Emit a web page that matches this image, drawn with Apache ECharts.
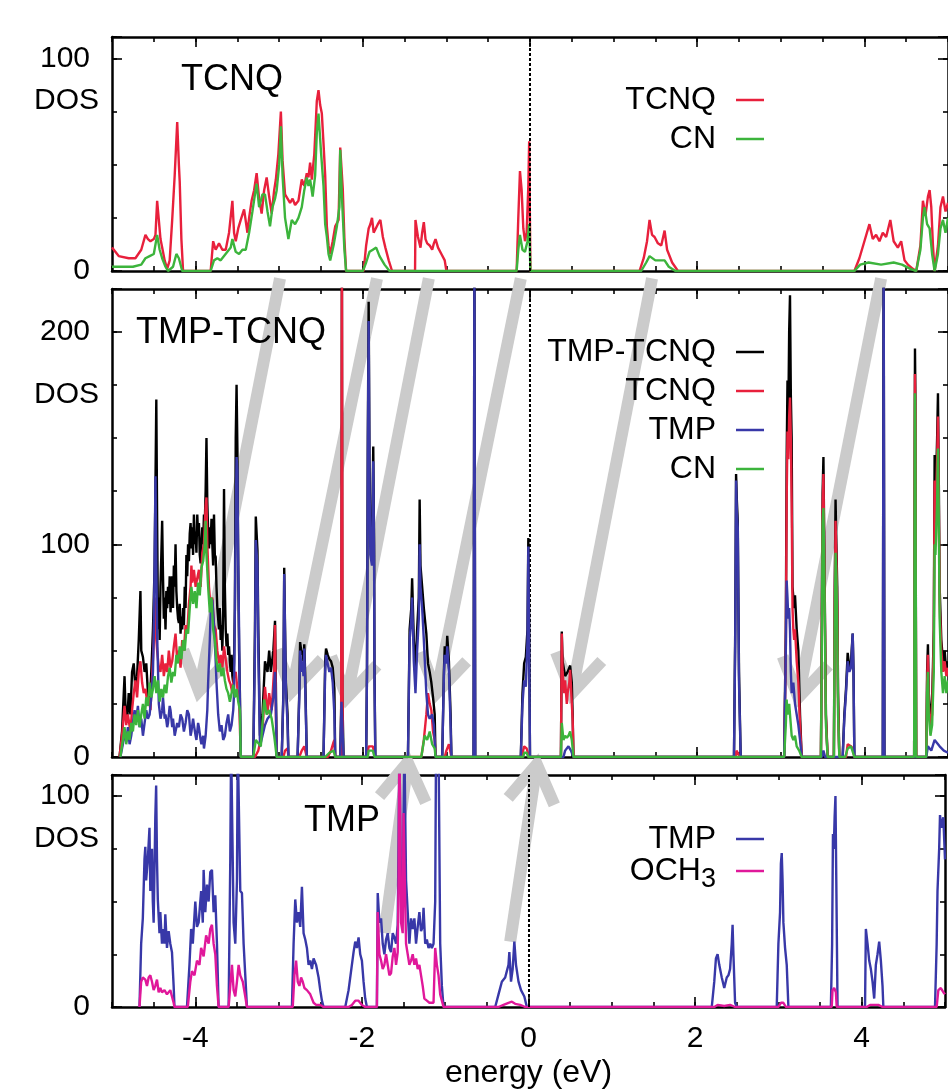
<!DOCTYPE html>
<html>
<head>
<meta charset="utf-8">
<title>DOS TMP-TCNQ</title>
<script src="https://cdn.jsdelivr.net/npm/echarts@6.0.0/dist/echarts.min.js"></script>
<style>
html, body { margin: 0; padding: 0; background: #fff; }
#main { width: 948px; height: 1090px; }
</style>
</head>
<body>
<div id="main"></div>
<script>
// ---- values: [energy (eV), DOS] ----
var tcnqTop = [[-5.0,11],[-4.92,7],[-4.8,6],[-4.72,6],[-4.65,10],[-4.6,17],[-4.57,15],[-4.54,14],[-4.5,15],[-4.48,17],[-4.46,33],[-4.44,24],[-4.42,15],[-4.4,11],[-4.37,5],[-4.34,1],[-4.31,5],[-4.28,24],[-4.25,45],[-4.22,70],[-4.2,50],[-4.19,42],[-4.17,15],[-4.15,0],
  [-3.82,0],[-3.79,14],[-3.76,10],[-3.72,13],[-3.68,10],[-3.64,10],[-3.6,18],[-3.56,33],[-3.54,18],[-3.52,14],[-3.49,20],[-3.46,24],[-3.42,29],[-3.38,18],[-3.36,25],[-3.33,33],[-3.3,38],[-3.27,46],[-3.24,34],[-3.21,27],[-3.18,38],[-3.15,44],[-3.12,35],[-3.09,27],[-3.06,38],[-3.04,43],[-3.01,55],[-2.98,75],[-2.96,52],[-2.93,36],[-2.9,34],[-2.87,32],[-2.84,34],[-2.81,31],[-2.77,33],[-2.73,43],[-2.7,40],[-2.67,46],[-2.65,44],[-2.63,51],[-2.61,43],[-2.58,55],[-2.55,80],[-2.53,85],[-2.51,78],[-2.49,74],[-2.47,60],[-2.45,45],[-2.43,21],[-2.41,12],[-2.39,8],[-2.36,14],[-2.33,21],[-2.29,24],[-2.27,58],[-2.24,39],[-2.22,15],[-2.2,0],
  [-1.99,0],[-1.96,12],[-1.93,20],[-1.91,22],[-1.89,25],[-1.87,18],[-1.85,18],[-1.82,22],[-1.79,24],[-1.76,16],[-1.73,11],[-1.69,5],[-1.65,0],
  [-1.375,0],[-1.37,24],[-1.34,16],[-1.31,11],[-1.29,18],[-1.27,23],[-1.25,15],[-1.23,13],[-1.2,12],[-1.17,10],[-1.15,13],[-1.13,15],[-1.1,11],[-1.06,8],[-1.02,5],[-1.0,0],
  [-0.16,0],[-0.14,25],[-0.12,47],[-0.1,38],[-0.08,20],[-0.06,14],[-0.04,18],[-0.02,40],[-0.01,61],[0.005,0],
  [1.31,0],[1.36,6],[1.4,14],[1.43,24],[1.46,17],[1.49,16],[1.53,13],[1.57,12],[1.61,19],[1.64,10],[1.7,4],[1.77,0],
  [3.88,0],[3.94,6],[4.0,14],[4.06,22],[4.1,15],[4.14,17],[4.18,14],[4.22,18],[4.26,16],[4.31,24],[4.35,14],[4.4,11],[4.44,14],[4.48,5],[4.52,3],[4.58,1],[4.62,0],
  [4.64,0],[4.67,12],[4.7,33],[4.73,26],[4.76,35],[4.78,38],[4.8,30],[4.82,12],[4.84,0],[4.88,12],[4.91,30],[4.94,35],[4.97,28],[5.0,32]];

var cnTop = [[-5.0,2],[-4.9,2],[-4.75,2],[-4.65,3],[-4.6,6],[-4.55,7],[-4.5,8],[-4.46,17],[-4.43,10],[-4.4,6],[-4.36,2],[-4.33,0],[-4.27,2],[-4.23,8],[-4.2,6],[-4.16,0],
  [-3.82,0],[-3.78,5],[-3.74,6],[-3.7,5],[-3.66,7],[-3.62,9],[-3.58,11],[-3.56,15],[-3.52,9],[-3.48,8],[-3.44,10],[-3.4,10],[-3.36,18],[-3.32,28],[-3.29,36],[-3.27,41],[-3.24,30],[-3.2,36],[-3.17,36],[-3.14,28],[-3.11,21],[-3.08,30],[-3.05,34],[-3.03,38],[-3.0,50],[-2.98,68],[-2.96,45],[-2.93,25],[-2.89,15],[-2.85,24],[-2.81,22],[-2.77,25],[-2.73,30],[-2.7,38],[-2.67,44],[-2.65,40],[-2.63,43],[-2.6,35],[-2.57,45],[-2.55,65],[-2.53,74],[-2.51,62],[-2.5,56],[-2.47,40],[-2.45,22],[-2.43,16],[-2.41,8],[-2.39,5],[-2.35,12],[-2.31,21],[-2.28,30],[-2.27,57],[-2.25,35],[-2.22,10],[-2.2,0],
  [-2.0,0],[-1.96,4],[-1.92,9],[-1.88,10],[-1.84,11],[-1.8,7],[-1.74,3],[-1.68,0],
  [-0.16,0],[-0.14,10],[-0.12,17],[-0.09,10],[-0.06,9],[-0.03,14],[-0.01,22],[0.005,0],
  [1.33,0],[1.39,4],[1.43,7],[1.5,5],[1.56,5],[1.61,5],[1.66,2],[1.74,0],
  [3.88,0],[3.95,3],[4.05,4],[4.2,3],[4.35,4],[4.45,3],[4.55,1],[4.62,0],
  [4.64,0],[4.67,10],[4.7,25],[4.72,30],[4.75,22],[4.78,20],[4.81,8],[4.84,0],[4.88,8],[4.91,20],[4.94,24],[4.97,18],[5.0,25]];

var totMid = [[-4.91,0],[-4.88,12],[-4.85,38],[-4.84,25],[-4.82,16],[-4.8,30],[-4.78,20],[-4.76,40],[-4.74,44],[-4.72,32],[-4.7,38],[-4.68,55],[-4.66,78],[-4.65,50],[-4.63,47],[-4.61,40],[-4.59,44],[-4.57,30],[-4.55,24],[-4.53,40],[-4.51,60],[-4.49,90],[-4.47,168],[-4.46,110],[-4.45,60],[-4.44,75],[-4.43,55],[-4.42,80],[-4.41,95],[-4.4,111],[-4.39,85],[-4.38,65],[-4.37,75],[-4.36,60],[-4.35,78],[-4.34,70],[-4.33,80],[-4.32,72],[-4.31,85],[-4.3,68],[-4.29,76],[-4.28,85],[-4.27,70],[-4.26,90],[-4.25,80],[-4.24,100],[-4.23,78],[-4.22,70],[-4.21,65],[-4.2,63],[-4.19,72],[-4.18,58],[-4.17,66],[-4.16,60],[-4.15,70],[-4.14,62],[-4.13,80],[-4.12,70],[-4.11,95],[-4.1,85],[-4.09,100],[-4.08,92],[-4.07,105],[-4.06,110],[-4.05,98],[-4.04,108],[-4.03,95],[-4.02,114],[-4.01,100],[-4.0,106],[-3.99,96],[-3.98,114],[-3.97,104],[-3.96,110],[-3.95,95],[-3.94,91],[-3.93,100],[-3.92,108],[-3.91,100],[-3.9,114],[-3.89,110],[-3.88,125],[-3.87,150],[-3.86,120],[-3.85,106],[-3.84,98],[-3.83,108],[-3.82,100],[-3.81,112],[-3.8,100],[-3.79,90],[-3.78,114],[-3.77,95],[-3.76,94],[-3.75,80],[-3.74,70],[-3.73,65],[-3.72,60],[-3.71,70],[-3.7,55],[-3.69,62],[-3.68,50],[-3.67,70],[-3.66,126],[-3.65,80],[-3.64,60],[-3.63,52],[-3.62,58],[-3.61,48],[-3.6,52],[-3.59,45],[-3.58,40],[-3.57,48],[-3.56,38],[-3.55,35],[-3.54,45],[-3.53,70],[-3.52,150],[-3.51,175],[-3.5,145],[-3.49,90],[-3.48,50],[-3.47,30],[-3.46,0],
  [-3.31,0],[-3.29,60],[-3.28,113],[-3.26,97],[-3.25,60],[-3.23,10],[-3.2,20],[-3.17,45],[-3.14,40],[-3.12,50],[-3.1,40],[-3.07,50],[-3.05,64],[-3.04,35],[-3.03,0],
  [-2.97,0],[-2.95,30],[-2.94,89],[-2.93,60],[-2.92,35],[-2.9,20],[-2.89,0],
  [-2.78,0],[-2.76,30],[-2.75,54],[-2.73,48],[-2.72,50],[-2.71,45],[-2.7,53],[-2.69,40],[-2.67,0],
  [-2.47,0],[-2.45,45],[-2.44,51],[-2.42,48],[-2.4,46],[-2.38,45],[-2.36,42],[-2.34,32],[-2.33,0],
  [-2.27,0],[-2.255,30],[-2.25,250],[-2.245,30],[-2.23,0],
  [-1.96,0],[-1.95,40],[-1.94,150],[-1.93,214],[-1.92,140],[-1.91,100],[-1.89,95],[-1.875,146],[-1.865,100],[-1.86,40],[-1.85,0],
  [-1.46,0],[-1.44,60],[-1.42,70],[-1.41,84],[-1.39,55],[-1.37,40],[-1.35,60],[-1.33,75],[-1.32,121],[-1.31,90],[-1.29,80],[-1.27,70],[-1.24,58],[-1.22,44],[-1.2,40],[-1.18,35],[-1.16,28],[-1.14,20],[-1.13,0],
  [-1.05,0],[-1.03,40],[-1.02,52],[-1.0,48],[-0.99,57],[-0.97,45],[-0.95,20],[-0.94,0],
  [-0.675,0],[-0.665,250],[-0.655,0],
  [-0.11,0],[-0.09,30],[-0.07,44],[-0.05,47],[-0.03,60],[-0.02,103],[-0.01,60],[0,0],
  [0.37,0],[0.38,59],[0.39,45],[0.42,38],[0.45,40],[0.47,42],[0.48,43],[0.5,35],[0.51,20],[0.52,0],
  [2.44,0],[2.455,60],[2.465,133],[2.475,120],[2.485,111],[2.5,40],[2.52,0],
  [3.04,0],[3.06,60],[3.07,140],[3.08,177],[3.09,160],[3.1,200],[3.11,217],[3.12,170],[3.13,150],[3.14,80],[3.15,75],[3.16,70],[3.17,76],[3.19,60],[3.21,50],[3.23,20],[3.25,0],
  [3.48,0],[3.49,60],[3.5,124],[3.51,141],[3.52,100],[3.53,60],[3.54,20],[3.56,0],
  [3.635,0],[3.645,80],[3.655,121],[3.665,100],[3.675,80],[3.685,30],[3.7,0],
  [3.74,0],[3.76,20],[3.78,32],[3.8,49],[3.82,42],[3.84,45],[3.86,58],[3.87,40],[3.88,0],
  [4.22,0],[4.23,250],[4.24,0],
  [4.595,0],[4.6,120],[4.605,192],[4.61,170],[4.615,80],[4.62,0],
  [4.74,0],[4.75,40],[4.76,53],[4.77,30],[4.79,20],[4.81,25],[4.83,60],[4.84,142],[4.85,120],[4.87,150],[4.88,171],[4.89,130],[4.9,80],[4.92,55],[4.94,45],[4.96,50],[4.98,40],[5.0,45]];

var tcnqMid = [[-4.91,0],[-4.88,10],[-4.85,24],[-4.83,15],[-4.81,20],[-4.78,12],[-4.76,22],[-4.74,30],[-4.72,36],[-4.7,28],[-4.68,40],[-4.66,45],[-4.64,35],[-4.62,30],[-4.6,32],[-4.58,26],[-4.56,28],[-4.54,22],[-4.52,38],[-4.5,55],[-4.49,75],[-4.48,60],[-4.46,50],[-4.44,42],[-4.42,40],[-4.4,48],[-4.38,38],[-4.36,44],[-4.34,40],[-4.32,50],[-4.3,42],[-4.28,45],[-4.26,52],[-4.24,58],[-4.22,45],[-4.2,50],[-4.18,42],[-4.16,55],[-4.14,50],[-4.12,62],[-4.1,58],[-4.08,72],[-4.06,80],[-4.05,90],[-4.04,82],[-4.02,88],[-4.0,80],[-3.98,84],[-3.96,88],[-3.94,80],[-3.92,96],[-3.9,100],[-3.88,118],[-3.87,122],[-3.86,100],[-3.84,80],[-3.82,70],[-3.8,75],[-3.78,62],[-3.76,60],[-3.74,50],[-3.72,44],[-3.7,48],[-3.68,42],[-3.66,52],[-3.64,46],[-3.62,40],[-3.6,36],[-3.58,34],[-3.56,30],[-3.54,38],[-3.52,40],[-3.5,32],[-3.48,28],[-3.46,0],
  [-3.29,0],[-3.25,3],[-3.2,12],[-3.17,33],[-3.14,20],[-3.12,30],[-3.09,22],[-3.06,42],[-3.05,62],[-3.04,20],[-3.03,0],
  [-2.95,0],[-2.93,3],[-2.9,4],[-2.89,0],
  [-2.76,0],[-2.73,3],[-2.7,5],[-2.67,0],
  [-2.42,0],[-2.38,3],[-2.35,7],[-2.34,8],[-2.33,0],
  [-2.26,0],[-2.25,240],[-2.24,0],
  [-1.95,0],[-1.93,5],[-1.88,5],[-1.85,0],
  [-1.3,0],[-1.27,8],[-1.24,20],[-1.22,30],[-1.2,25],[-1.18,22],[-1.16,12],[-1.14,8],[-1.13,0],
  [-1.02,0],[-1.0,3],[-0.97,6],[-0.94,0],
  [-0.1,0],[-0.07,5],[-0.04,4],[-0.01,0],
  [0.37,0],[0.38,58],[0.39,40],[0.41,30],[0.42,36],[0.44,25],[0.45,30],[0.47,35],[0.48,41],[0.5,25],[0.51,18],[0.52,0],
  [2.46,0],[2.47,3],[2.49,3],[2.51,0],
  [3.04,0],[3.06,50],[3.07,120],[3.08,153],[3.09,140],[3.1,160],[3.11,169],[3.12,150],[3.13,120],[3.14,70],[3.15,60],[3.16,55],[3.17,60],[3.19,45],[3.21,35],[3.23,15],[3.25,0],
  [3.48,0],[3.49,55],[3.5,117],[3.51,133],[3.52,95],[3.53,55],[3.54,18],[3.56,0],
  [3.635,0],[3.645,70],[3.655,111],[3.665,92],[3.675,70],[3.685,25],[3.7,0],
  [3.78,0],[3.8,6],[3.84,5],[3.86,4],[3.88,0],
  [4.595,0],[4.6,115],[4.605,180],[4.61,160],[4.615,75],[4.62,0],
  [4.74,0],[4.75,35],[4.76,48],[4.77,25],[4.79,15],[4.81,20],[4.83,55],[4.84,130],[4.85,110],[4.87,140],[4.88,160],[4.89,120],[4.9,72],[4.92,50],[4.94,40],[4.96,45],[4.98,38],[5.0,42]];

var tmpMid = [[-4.9,0],[-4.87,6],[-4.85,12],[-4.83,7],[-4.81,14],[-4.79,6],[-4.77,10],[-4.75,16],[-4.73,22],[-4.71,18],[-4.69,24],[-4.67,14],[-4.65,18],[-4.63,10],[-4.61,16],[-4.59,22],[-4.57,18],[-4.55,20],[-4.53,28],[-4.51,40],[-4.5,58],[-4.48,132],[-4.47,90],[-4.46,58],[-4.44,25],[-4.42,18],[-4.4,22],[-4.39,28],[-4.37,18],[-4.36,20],[-4.34,14],[-4.33,16],[-4.31,24],[-4.3,22],[-4.28,14],[-4.27,18],[-4.25,10],[-4.24,12],[-4.22,16],[-4.2,14],[-4.18,20],[-4.16,18],[-4.14,12],[-4.12,16],[-4.1,22],[-4.08,20],[-4.06,10],[-4.05,12],[-4.03,18],[-4.02,15],[-4.0,10],[-3.99,8],[-3.97,16],[-3.96,14],[-3.94,8],[-3.93,6],[-3.91,10],[-3.9,4],[-3.88,10],[-3.86,22],[-3.85,35],[-3.83,55],[-3.82,68],[-3.8,74],[-3.78,62],[-3.77,55],[-3.75,35],[-3.73,20],[-3.71,12],[-3.69,15],[-3.67,8],[-3.65,10],[-3.63,16],[-3.61,20],[-3.59,12],[-3.57,15],[-3.55,22],[-3.54,30],[-3.53,70],[-3.52,110],[-3.51,141],[-3.5,135],[-3.49,90],[-3.48,60],[-3.47,25],[-3.46,0],
  [-3.31,0],[-3.29,50],[-3.28,102],[-3.26,90],[-3.25,50],[-3.23,5],[-3.2,10],[-3.17,15],[-3.14,18],[-3.1,20],[-3.07,28],[-3.05,40],[-3.04,25],[-3.03,0],
  [-2.97,0],[-2.95,28],[-2.94,86],[-2.93,58],[-2.92,32],[-2.9,15],[-2.89,0],
  [-2.78,0],[-2.76,28],[-2.75,50],[-2.73,40],[-2.72,45],[-2.71,38],[-2.7,51],[-2.69,35],[-2.67,0],
  [-2.47,0],[-2.45,40],[-2.44,48],[-2.42,44],[-2.4,40],[-2.38,42],[-2.36,35],[-2.34,20],[-2.33,0],
  [-2.27,0],[-2.255,26],[-2.245,26],[-2.23,0],
  [-1.96,0],[-1.95,38],[-1.94,140],[-1.93,205],[-1.92,132],[-1.91,95],[-1.89,90],[-1.875,139],[-1.865,95],[-1.86,35],[-1.85,0],
  [-1.46,0],[-1.44,55],[-1.42,65],[-1.41,75],[-1.39,45],[-1.37,30],[-1.35,50],[-1.33,65],[-1.32,100],[-1.31,80],[-1.29,70],[-1.27,55],[-1.24,30],[-1.22,20],[-1.2,18],[-1.17,20],[-1.15,15],[-1.13,0],
  [-1.05,0],[-1.03,38],[-1.02,48],[-1.0,44],[-0.99,52],[-0.97,40],[-0.95,15],[-0.94,0],
  [-0.675,0],[-0.665,240],[-0.655,0],
  [-0.11,0],[-0.09,25],[-0.07,36],[-0.05,33],[-0.03,55],[-0.02,99],[-0.01,55],[0,0],
  [0.4,0],[0.42,3],[0.46,5],[0.49,3],[0.52,0],
  [2.44,0],[2.455,55],[2.465,130],[2.475,115],[2.485,108],[2.5,35],[2.52,0],
  [3.04,0],[3.06,50],[3.07,83],[3.08,75],[3.09,65],[3.1,70],[3.11,60],[3.12,40],[3.13,30],[3.15,35],[3.17,25],[3.19,20],[3.21,15],[3.23,8],[3.25,0],
  [3.49,0],[3.51,3],[3.53,0],
  [3.74,0],[3.76,18],[3.78,30],[3.8,45],[3.82,40],[3.84,42],[3.86,58],[3.87,38],[3.88,0],
  [4.22,0],[4.23,240],[4.24,0],
  [4.74,0],[4.76,5],[4.8,3],[4.84,8],[4.9,5],[4.95,3],[5.0,2]];

var cnMid = [[-4.9,0],[-4.87,8],[-4.85,14],[-4.83,6],[-4.81,12],[-4.79,8],[-4.77,16],[-4.75,12],[-4.73,20],[-4.71,15],[-4.69,22],[-4.67,14],[-4.65,20],[-4.63,25],[-4.61,18],[-4.59,28],[-4.57,24],[-4.55,35],[-4.53,28],[-4.51,32],[-4.49,38],[-4.47,30],[-4.45,36],[-4.43,26],[-4.41,32],[-4.39,28],[-4.37,34],[-4.35,30],[-4.33,38],[-4.31,42],[-4.29,35],[-4.27,40],[-4.25,38],[-4.23,48],[-4.21,44],[-4.19,52],[-4.17,46],[-4.15,55],[-4.13,50],[-4.11,60],[-4.09,58],[-4.07,70],[-4.05,80],[-4.03,72],[-4.01,78],[-3.99,70],[-3.97,82],[-3.95,76],[-3.93,89],[-3.91,92],[-3.89,100],[-3.88,111],[-3.87,95],[-3.85,80],[-3.83,68],[-3.81,75],[-3.79,60],[-3.77,55],[-3.75,45],[-3.73,40],[-3.71,44],[-3.69,38],[-3.67,42],[-3.65,36],[-3.63,32],[-3.61,30],[-3.59,26],[-3.57,30],[-3.55,34],[-3.53,28],[-3.51,32],[-3.49,26],[-3.47,22],[-3.46,0],
  [-3.31,0],[-3.28,8],[-3.22,5],[-3.18,27],[-3.15,20],[-3.12,22],[-3.09,18],[-3.06,10],[-3.03,0],
  [-2.45,0],[-2.4,2],[-2.35,3],[-2.33,0],
  [-1.94,0],[-1.93,3],[-1.88,3],[-1.86,0],
  [-1.3,0],[-1.26,10],[-1.23,8],[-1.2,12],[-1.17,6],[-1.14,4],[-1.13,0],
  [-0.08,0],[-0.07,2],[-0.04,2],[-0.02,0],
  [0.37,0],[0.38,16],[0.4,8],[0.42,10],[0.44,9],[0.46,10],[0.48,12],[0.5,8],[0.52,0],
  [3.04,0],[3.06,15],[3.07,27],[3.08,20],[3.1,25],[3.11,20],[3.13,10],[3.15,8],[3.17,10],[3.19,5],[3.22,3],[3.25,0],
  [3.48,0],[3.49,50],[3.5,110],[3.51,117],[3.52,90],[3.53,50],[3.54,15],[3.56,0],
  [3.635,0],[3.645,60],[3.655,96],[3.665,85],[3.675,60],[3.685,20],[3.7,0],
  [3.77,0],[3.8,4],[3.84,5],[3.88,0],
  [4.595,0],[4.6,110],[4.605,171],[4.61,150],[4.615,70],[4.62,0],
  [4.74,0],[4.75,30],[4.76,40],[4.77,20],[4.79,10],[4.81,15],[4.83,40],[4.84,100],[4.85,95],[4.87,120],[4.88,145],[4.89,110],[4.9,65],[4.92,40],[4.94,30],[4.96,38],[4.98,30],[5.0,36]];

var tmpBot = [[-4.67,0],[-4.65,30],[-4.63,42],[-4.61,70],[-4.6,76],[-4.59,60],[-4.57,70],[-4.55,85],[-4.54,55],[-4.52,75],[-4.51,50],[-4.5,40],[-4.48,90],[-4.47,105],[-4.46,70],[-4.45,51],[-4.43,35],[-4.42,45],[-4.4,30],[-4.39,37],[-4.37,30],[-4.36,44],[-4.34,28],[-4.32,36],[-4.3,30],[-4.28,26],[-4.26,10],[-4.25,0],
  [-4.1,0],[-4.07,20],[-4.05,37],[-4.03,30],[-4.0,50],[-3.98,38],[-3.96,40],[-3.93,55],[-3.91,40],[-3.9,65],[-3.88,45],[-3.86,58],[-3.84,50],[-3.82,64],[-3.8,65],[-3.78,45],[-3.76,53],[-3.74,30],[-3.72,0],
  [-3.6,0],[-3.58,70],[-3.57,125],[-3.55,125],[-3.54,40],[-3.52,30],[-3.5,60],[-3.49,125],[-3.47,125],[-3.46,55],[-3.44,54],[-3.42,30],[-3.4,15],[-3.38,0],
  [-2.84,0],[-2.82,30],[-2.8,51],[-2.78,40],[-2.76,45],[-2.74,38],[-2.72,57],[-2.7,35],[-2.68,32],[-2.66,28],[-2.64,20],[-2.62,22],[-2.6,18],[-2.58,23],[-2.55,20],[-2.52,14],[-2.5,8],[-2.48,3],[-2.46,0],
  [-2.2,0],[-2.16,8],[-2.13,17],[-2.1,26],[-2.08,31],[-2.06,28],[-2.04,33],[-2.02,25],[-2.0,22],[-1.98,12],[-1.96,4],[-1.94,0],
  [-1.82,0],[-1.81,54],[-1.79,40],[-1.77,42],[-1.75,30],[-1.73,25],[-1.71,32],[-1.69,35],[-1.67,28],[-1.65,26],[-1.63,35],[-1.61,33],[-1.59,30],[-1.57,39],[-1.56,80],[-1.55,125],[-1.54,125],[-1.53,55],[-1.51,40],[-1.5,90],[-1.49,125],[-1.48,125],[-1.47,60],[-1.45,45],[-1.43,30],[-1.41,42],[-1.39,37],[-1.37,42],[-1.35,30],[-1.33,38],[-1.31,45],[-1.29,36],[-1.27,38],[-1.26,47],[-1.24,30],[-1.22,32],[-1.2,28],[-1.18,30],[-1.16,28],[-1.14,30],[-1.12,50],[-1.11,125],[-1.08,125],[-1.06,30],[-1.04,10],[-1.02,0],
  [-0.4,0],[-0.36,6],[-0.32,12],[-0.28,14],[-0.26,17],[-0.24,20],[-0.23,26],[-0.21,12],[-0.19,18],[-0.17,31],[-0.15,20],[-0.12,12],[-0.09,8],[-0.05,5],[-0.02,0],
  [2.2,0],[2.23,12],[2.25,23],[2.27,25],[2.29,20],[2.32,14],[2.35,9],[2.38,14],[2.4,15],[2.42,18],[2.44,30],[2.45,39],[2.46,25],[2.48,2],[2.5,0],
  [2.98,0],[2.99,15],[3.0,30],[3.02,45],[3.03,68],[3.04,73],[3.05,60],[3.06,40],[3.08,28],[3.1,20],[3.11,10],[3.12,0],
  [3.63,0],[3.645,30],[3.655,82],[3.665,75],[3.675,90],[3.685,100],[3.695,60],[3.71,0],
  [4.04,0],[4.05,37],[4.07,30],[4.09,22],[4.11,18],[4.13,12],[4.15,4],[4.17,20],[4.19,25],[4.21,31],[4.23,22],[4.25,10],[4.26,0],
  [4.88,0],[4.9,30],[4.91,55],[4.93,75],[4.94,91],[4.96,85],[4.98,90],[5.0,70]];

var ochBot = [[-4.67,0],[-4.65,12],[-4.63,14],[-4.6,13],[-4.58,10],[-4.56,14],[-4.54,15],[-4.52,12],[-4.5,8],[-4.48,10],[-4.46,13],[-4.44,7],[-4.42,9],[-4.4,7],[-4.37,8],[-4.34,6],[-4.3,8],[-4.28,5],[-4.26,2],[-4.25,0],
  [-4.09,0],[-4.06,12],[-4.04,17],[-4.01,15],[-3.98,22],[-3.95,20],[-3.93,28],[-3.9,24],[-3.87,34],[-3.84,30],[-3.82,37],[-3.8,39],[-3.78,30],[-3.76,25],[-3.74,10],[-3.72,0],
  [-3.6,0],[-3.57,15],[-3.56,20],[-3.54,8],[-3.52,5],[-3.5,12],[-3.48,20],[-3.46,15],[-3.43,12],[-3.4,5],[-3.38,0],
  [-2.83,0],[-2.81,15],[-2.79,22],[-2.77,12],[-2.75,10],[-2.73,14],[-2.71,12],[-2.69,9],[-2.66,8],[-2.62,6],[-2.58,2],[-2.55,1],[-2.5,1],[-2.46,0],
  [-2.16,0],[-2.12,1],[-2.08,3],[-2.04,3],[-2.0,1],[-1.96,0],
  [-1.82,0],[-1.81,45],[-1.79,25],[-1.77,22],[-1.75,18],[-1.73,20],[-1.71,25],[-1.69,20],[-1.67,15],[-1.65,16],[-1.63,24],[-1.61,28],[-1.59,20],[-1.57,26],[-1.56,60],[-1.55,125],[-1.54,90],[-1.53,40],[-1.51,35],[-1.5,92],[-1.49,70],[-1.47,30],[-1.45,25],[-1.43,20],[-1.41,22],[-1.39,25],[-1.37,20],[-1.35,23],[-1.33,18],[-1.31,20],[-1.29,15],[-1.27,10],[-1.25,4],[-1.22,3],[-1.19,2],[-1.17,2],[-1.14,2],[-1.12,28],[-1.1,20],[-1.08,15],[-1.06,6],[-1.02,0],
  [-0.36,0],[-0.3,1],[-0.24,2],[-0.2,2.5],[-0.16,1.5],[-0.1,1],[-0.04,0],
  [2.23,0],[2.27,1],[2.35,0.5],[2.42,1],[2.48,0],
  [3.0,0],[3.03,2],[3.06,2],[3.09,0],
  [3.64,0],[3.65,8],[3.67,9],[3.69,7],[3.7,0],
  [4.06,0],[4.1,1],[4.2,1],[4.25,0],
  [4.9,0],[4.92,8],[4.95,9],[4.98,7],[5.0,6]];

var xTicksMajor = [-4, -2, 0, 2, 4];
var yMaxes = [110, 220, 110];

// gray guide arrows: [panel, energy, DOS] tail -> head
var arrowsDown = [
  [[0, -2.99, -3.5], [1, -3.96, 31]],
  [[0, -1.83, -3.5], [1, -2.85, 31]],
  [[0, -1.21, -3.5], [1, -2.19, 28]],
  [[0, -0.11, -3.5], [1, -1.12, 30]],
  [[0, 1.46, -3.5], [1, 0.5, 30]],
  [[0, 4.2, -3.5], [1, 3.21, 28]]
];
var arrowsUp = [
  [[2, -1.73, 35], [2, -1.45, 116]],
  [[2, -0.22, 31], [2, 0.1, 115]]
];

var FONT = "'Liberation Sans', Arial, Helvetica, sans-serif";
var COLORS = { black: '#000000', red: '#e8203c', blue: '#3838a8', green: '#3cb43c', magenta: '#e0189a' };

var panelSeries = [
  [ { name: 'TCNQ', data: tcnqTop, color: COLORS.red },
    { name: 'CN', data: cnTop, color: COLORS.green } ],
  [ { name: 'TMP-TCNQ', data: totMid, color: COLORS.black },
    { name: 'TCNQ', data: tcnqMid, color: COLORS.red },
    { name: 'TMP', data: tmpMid, color: COLORS.blue },
    { name: 'CN', data: cnMid, color: COLORS.green } ],
  [ { name: 'TMP', data: tmpBot, color: COLORS.blue },
    { name: 'OCH3', data: ochBot, color: COLORS.magenta } ]
];

// layout of the three stacked panels
var panelBox = [
  { top: 37, height: 234, title: 'TCNQ', titleLeft: 181, titleTop: 62, dosTop: 86, legendY: 99 },
  { top: 289, height: 468, title: 'TMP-TCNQ', titleLeft: 136, titleTop: 315, dosTop: 380, legendY: 351 },
  { top: 775, height: 234, title: 'TMP', titleLeft: 304, titleTop: 803, dosTop: 824, legendY: 838 }
];

function DosPanels(domId) {
    var me = {
        chart: echarts.init(document.getElementById(domId), null, { renderer: 'canvas' }),

        axisLine: { show: true, onZero: false, lineStyle: { color: '#000', width: 2.5 } },
        tickStyle: { color: '#000', width: 1.6 },

        xAxes: function(g) {
            var axes = [];
            var positions = ['bottom', 'top'];
            for (var p = 0; p < 2; p++) {
                var pos = positions[p];
                var labelled = (g === 2 && pos === 'bottom');
                axes.push({
                    type: 'value', gridIndex: g, position: pos, min: -5, max: 5, interval: 0.5,
                    axisLine: this.axisLine,
                    axisTick: { show: true, inside: true, length: 5, lineStyle: this.tickStyle },
                    axisLabel: {
                        show: labelled, margin: 17, fontSize: 30, color: '#000', fontFamily: FONT,
                        formatter: function(v) {
                            return (xTicksMajor.indexOf(v) >= 0) ? String(v) : '';
                        }
                    },
                    splitLine: { show: false },
                    name: labelled ? 'energy (eV)' : '',
                    nameLocation: 'middle', nameGap: 50,
                    nameTextStyle: { fontSize: 32, color: '#000', fontFamily: FONT }
                });
                axes.push({
                    type: 'value', gridIndex: g, position: pos, min: -5, max: 5,
                    axisLine: { show: false, onZero: false },
                    axisTick: { show: true, inside: true, length: 10, customValues: xTicksMajor, lineStyle: this.tickStyle },
                    axisLabel: { show: false },
                    splitLine: { show: false }
                });
            }
            return axes;
        },

        yAxes: function(g) {
            var axes = [];
            var positions = ['left', 'right'];
            for (var p = 0; p < 2; p++) {
                var pos = positions[p];
                axes.push({
                    type: 'value', gridIndex: g, position: pos, min: 0, max: yMaxes[g], interval: 25,
                    axisLine: this.axisLine,
                    axisTick: { show: true, inside: true, length: 5, lineStyle: this.tickStyle },
                    axisLabel: {
                        show: pos === 'left', margin: 22, fontSize: 30, color: '#000', fontFamily: FONT,
                        formatter: function(v) { return v % 100 === 0 ? String(v) : ''; }
                    },
                    splitLine: { show: false }
                });
                axes.push({
                    type: 'value', gridIndex: g, position: pos, min: 0, max: yMaxes[g], interval: 100,
                    axisLine: { show: false, onZero: false },
                    axisTick: { show: true, inside: true, length: 10, lineStyle: this.tickStyle },
                    axisLabel: { show: false },
                    splitLine: { show: false }
                });
            }
            return axes;
        },

        legendFor: function(name, cy) {
            var sub = name === 'OCH3';
            return {
                data: [name], orient: 'vertical', right: 184, top: sub ? cy - 22 : cy - 15,
                align: 'right', padding: 0, itemWidth: 28, itemHeight: 2.5, icon: 'rect',
                selectedMode: false,
                formatter: function(n) { return n === 'OCH3' ? '{a|OCH}{b|3}' : n; },
                textStyle: {
                    fontSize: 32, color: '#000', fontFamily: FONT, padding: [0, 15, 0, 0],
                    rich: {
                        a: { fontSize: 32, color: '#000', fontFamily: FONT },
                        b: { fontSize: 27, color: '#000', fontFamily: FONT, padding: [18, 0, 0, 0] }
                    }
                }
            };
        },

        buildOption: function() {
            var grids = [], xAxis = [], yAxis = [], series = [], legends = [], titles = [];
            for (var g = 0; g < 3; g++) {
                var box = panelBox[g];
                grids.push({ left: 112, top: box.top, width: 840, height: box.height, show: false });
                xAxis = xAxis.concat(this.xAxes(g));
                yAxis = yAxis.concat(this.yAxes(g));

                titles.push({ text: box.title, left: box.titleLeft, top: box.titleTop, padding: 0,
                    textStyle: { fontSize: 36, fontWeight: 'normal', color: '#000', fontFamily: FONT } });
                titles.push({ text: 'DOS', left: 34, top: box.dosTop, padding: 0,
                    textStyle: { fontSize: 30, fontWeight: 'normal', color: '#000', fontFamily: FONT } });

                var list = panelSeries[g];
                for (var i = 0; i < list.length; i++) {
                    var s = list[i];
                    var item = {
                        type: 'line', name: s.name, data: s.data,
                        xAxisIndex: g * 4, yAxisIndex: g * 4,
                        symbol: 'none', showSymbol: false, silent: true, animation: false,
                        lineStyle: { color: s.color, width: 2.4 },
                        itemStyle: { color: s.color },
                        z: 3 + i
                    };
                    if (i === 0) {
                        // Fermi level
                        item.markLine = {
                            silent: true, animation: false, symbol: ['none', 'none'],
                            label: { show: false },
                            lineStyle: { color: '#000', type: [3, 2], width: 2 },
                            data: [{ xAxis: 0 }]
                        };
                    }
                    series.push(item);
                    legends.push(this.legendFor(s.name, box.legendY + i * 39));
                }
            }
            return {
                backgroundColor: '#fff',
                animation: false,
                title: titles,
                grid: grids,
                xAxis: xAxis,
                yAxis: yAxis,
                legend: legends,
                series: series
            };
        },

        toPixel: function(pt) {
            return me.chart.convertToPixel({ xAxisIndex: pt[0] * 4, yAxisIndex: pt[0] * 4 }, [pt[1], pt[2]]);
        },

        arrowElements: function(tail, head) {
            var dx = tail[0] - head[0], dy = tail[1] - head[1];
            var len = Math.sqrt(dx * dx + dy * dy);
            var ux = dx / len, uy = dy / len;
            var arm = 44, ang = 32 * Math.PI / 180;
            function rot(a) {
                return [head[0] + arm * (ux * Math.cos(a) - uy * Math.sin(a)),
                        head[1] + arm * (ux * Math.sin(a) + uy * Math.cos(a))];
            }
            var style = { stroke: '#cbcbcb', lineWidth: 12, fill: null, lineJoin: 'miter', lineCap: 'butt' };
            return [
                { type: 'polyline', silent: true, z: 1, shape: { points: [tail, head] }, style: style },
                { type: 'polyline', silent: true, z: 1, shape: { points: [rot(ang), head, rot(-ang)] }, style: style }
            ];
        },

        drawArrows: function() {
            var all = arrowsDown.concat(arrowsUp);
            var elements = [];
            for (var i = 0; i < all.length; i++) {
                var tail = this.toPixel(all[i][0]);
                var head = this.toPixel(all[i][1]);
                elements = elements.concat(this.arrowElements(tail, head));
            }
            this.chart.setOption({ graphic: { elements: elements } });
        }
    };
    me.chart.setOption(me.buildOption());
    me.drawArrows();
    return me;
}

DosPanels('main');
</script>
</body>
</html>
